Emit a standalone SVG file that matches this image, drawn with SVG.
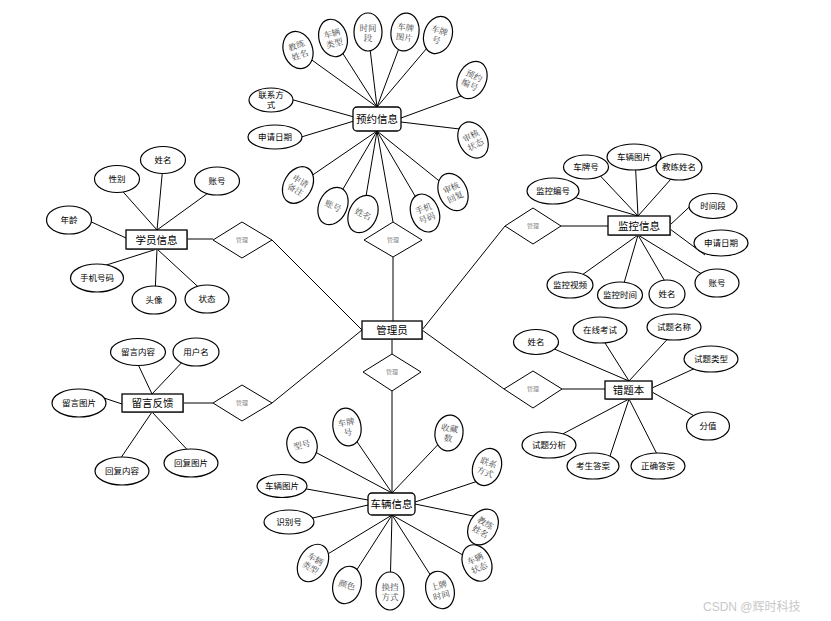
<svg xmlns="http://www.w3.org/2000/svg" width="831" height="621" viewBox="0 0 831 621">
<style>
.bg{fill:#fff}
.c line{stroke:#000;stroke-width:1}
.e{fill:#fff;stroke:#000;stroke-width:1.2}
.r{fill:#fff;stroke:#000;stroke-width:1.3}
.sh{fill:#999}
.d{fill:#fff;stroke:#000;stroke-width:1}
.t{font-family:"Liberation Sans","Noto Sans CJK SC",sans-serif;font-size:8.5px;fill:#000;text-anchor:middle}
.h{font-family:"Liberation Sans","Noto Sans CJK SC",sans-serif;font-size:10.5px;fill:#000;text-anchor:middle}
.s{font-family:"Liberation Serif","Noto Serif CJK SC","Noto Sans CJK SC",serif;font-size:8.5px;fill:#444;text-anchor:middle}
.m{font-family:"Liberation Sans","Noto Sans CJK SC",sans-serif;font-size:6px;fill:#888;text-anchor:middle}
.w{font-family:"Liberation Sans","Noto Sans CJK SC",sans-serif;font-size:12px;fill:#c8c8c8}
</style>
<rect class="bg" x="0" y="0" width="831" height="621"/>
<g id="connectors" class="c">
<line x1="377" y1="131" x2="393" y2="222"/>
<line x1="393" y1="257" x2="393" y2="321"/>
<line x1="392" y1="339" x2="392" y2="354"/>
<line x1="392" y1="391" x2="392" y2="493"/>
<line x1="187" y1="239" x2="213" y2="239"/>
<line x1="272" y1="240" x2="362" y2="330"/>
<line x1="183" y1="403" x2="213" y2="403"/>
<line x1="272" y1="403" x2="362" y2="330"/>
<line x1="422" y1="330" x2="505" y2="226"/>
<line x1="561" y1="226" x2="608" y2="226"/>
<line x1="422" y1="330" x2="504" y2="389"/>
<line x1="562" y1="389" x2="605" y2="389"/>
<line x1="377" y1="107" x2="298" y2="50"/>
<line x1="377" y1="107" x2="333" y2="38"/>
<line x1="377" y1="107" x2="368" y2="32"/>
<line x1="377" y1="107" x2="405" y2="32"/>
<line x1="377" y1="107" x2="438" y2="35"/>
<line x1="290" y1="99" x2="354" y2="117"/>
<line x1="298" y1="138" x2="354" y2="121"/>
<line x1="472" y1="92" x2="401" y2="118"/>
<line x1="401" y1="122" x2="468" y2="130"/>
<line x1="377" y1="131" x2="298" y2="185"/>
<line x1="377" y1="131" x2="333" y2="206"/>
<line x1="377" y1="131" x2="363" y2="214"/>
<line x1="377" y1="131" x2="425" y2="213"/>
<line x1="377" y1="131" x2="453" y2="192"/>
<line x1="638" y1="216" x2="553" y2="191"/>
<line x1="638" y1="216" x2="592" y2="167"/>
<line x1="638" y1="216" x2="635" y2="157"/>
<line x1="638" y1="216" x2="679" y2="170"/>
<line x1="670" y1="225" x2="700" y2="197"/>
<line x1="670" y1="229" x2="705" y2="255"/>
<line x1="638" y1="235" x2="710" y2="279"/>
<line x1="638" y1="235" x2="670" y2="290"/>
<line x1="638" y1="235" x2="622" y2="290"/>
<line x1="638" y1="235" x2="575" y2="280"/>
<line x1="629" y1="381" x2="545" y2="345"/>
<line x1="629" y1="381" x2="600" y2="335"/>
<line x1="629" y1="381" x2="674" y2="332"/>
<line x1="652" y1="388" x2="700" y2="366"/>
<line x1="652" y1="392" x2="705" y2="422"/>
<line x1="629" y1="399" x2="555" y2="438"/>
<line x1="629" y1="399" x2="608" y2="462"/>
<line x1="629" y1="399" x2="660" y2="460"/>
<line x1="157" y1="230" x2="117" y2="185"/>
<line x1="157" y1="230" x2="163" y2="165"/>
<line x1="157" y1="230" x2="215" y2="188"/>
<line x1="85" y1="219" x2="126" y2="238"/>
<line x1="157" y1="249" x2="97" y2="268"/>
<line x1="157" y1="249" x2="155" y2="295"/>
<line x1="157" y1="249" x2="207" y2="295"/>
<line x1="152" y1="394" x2="135" y2="358"/>
<line x1="152" y1="394" x2="187" y2="357"/>
<line x1="98" y1="396" x2="122" y2="404"/>
<line x1="152" y1="412" x2="116" y2="465"/>
<line x1="152" y1="412" x2="195" y2="458"/>
<line x1="392" y1="493" x2="302" y2="445"/>
<line x1="392" y1="493" x2="347" y2="427"/>
<line x1="392" y1="493" x2="449" y2="433"/>
<line x1="368" y1="500" x2="290" y2="486"/>
<line x1="415" y1="502" x2="487" y2="478"/>
<line x1="368" y1="505" x2="300" y2="521"/>
<line x1="415" y1="504" x2="483" y2="518"/>
<line x1="392" y1="515" x2="313" y2="563"/>
<line x1="392" y1="515" x2="347" y2="585"/>
<line x1="392" y1="515" x2="390" y2="591"/>
<line x1="392" y1="515" x2="440" y2="590"/>
<line x1="392" y1="515" x2="477" y2="563"/>
</g>

<g id="rel-top"><polygon class="d" points="393,222 422,240 393,257 364,240"/><text class="m" x="393" y="242">管理</text></g>
<g id="rel-bottom"><polygon class="d" points="392,354 421,372 392,391 363,372"/><text class="m" x="392" y="374">管理</text></g>
<g id="rel-left1"><polygon class="d" points="242,222 272,240 242,258 213,240"/><text class="m" x="242" y="242">管理</text></g>
<g id="rel-left2"><polygon class="d" points="242,385 272,403 242,421 213,403"/><text class="m" x="242" y="405">管理</text></g>
<g id="rel-right1"><polygon class="d" points="533,208 561,226 533,244 505,226"/><text class="m" x="533" y="228">管理</text></g>
<g id="rel-right2"><polygon class="d" points="533,371 562,389 533,408 504,389"/><text class="m" x="533" y="391">管理</text></g>

<g id="admin"><rect class="sh" x="363" y="322" width="60" height="18"/><rect class="r" x="362" y="321" width="60" height="18"/><text class="h" x="392" y="334">管理员</text></g>
<g id="student"><rect class="sh" x="127" y="231" width="61" height="19"/><rect class="r" x="126" y="230" width="61" height="19"/><text class="h" x="156.5" y="243.5">学员信息</text></g>
<g id="feedback"><rect class="sh" x="123" y="395" width="61" height="18"/><rect class="r" x="122" y="394" width="61" height="18"/><text class="h" x="152.5" y="407">留言反馈</text></g>
<g id="monitor"><rect class="sh" x="609" y="217" width="62" height="19"/><rect class="r" x="608" y="216" width="62" height="19"/><text class="h" x="639" y="229.5">监控信息</text></g>
<g id="wrongbook"><rect class="sh" x="606" y="382" width="47" height="18"/><rect class="r" x="605" y="381" width="47" height="18"/><text class="h" x="628.5" y="394">错题本</text></g>
<g id="booking"><rect class="r" x="353" y="107" width="48" height="24" rx="4"/><text class="h" x="377" y="123">预约信息</text></g>
<g id="vehicle"><rect class="r" x="368" y="493" width="47" height="22" rx="4"/><text class="h" x="391.5" y="508">车辆信息</text></g>

<g id="bk-coach" transform="translate(298,50) rotate(-20)"><ellipse class="e" rx="14.5" ry="19"/><text class="s" y="-1.5">教练</text><text class="s" y="8.5">姓名</text></g>
<g id="bk-cartype" transform="translate(333,38) rotate(-15)"><ellipse class="e" rx="14" ry="19"/><text class="s" y="-1.5">车辆</text><text class="s" y="8.5">类型</text></g>
<g id="bk-period" transform="translate(368,32)"><ellipse class="e" rx="14" ry="19"/><text class="s" y="-1.5">时间</text><text class="s" y="8.5">段</text></g>
<g id="bk-plateimg" transform="translate(405,32) rotate(8)"><ellipse class="e" rx="14" ry="19"/><text class="s" y="-1.5">车牌</text><text class="s" y="8.5">图片</text></g>
<g id="bk-plate" transform="translate(438,35) rotate(18)"><ellipse class="e" rx="14" ry="19"/><text class="s" y="-1.5">车牌</text><text class="s" y="8.5">号</text></g>
<g id="bk-no" transform="translate(472,80) rotate(25)"><ellipse class="e" rx="14" ry="19.5"/><text class="s" y="-1.5">预约</text><text class="s" y="8.5">编号</text></g>
<g id="bk-status" transform="translate(473,140) rotate(-28)"><ellipse class="e" rx="14" ry="19"/><text class="s" y="-1.5">审核</text><text class="s" y="8.5">状态</text></g>
<g id="bk-note" transform="translate(298,185) rotate(30)"><ellipse class="e" rx="14" ry="19.5"/><text class="s" y="-1.5">申请</text><text class="s" y="8.5">备注</text></g>
<g id="bk-account" transform="translate(333,206) rotate(25)"><ellipse class="e" rx="14" ry="19.5"/><text class="s" y="3">账号</text></g>
<g id="bk-name" transform="translate(363,214) rotate(25)"><ellipse class="e" rx="14" ry="19.5"/><text class="s" y="3">姓名</text></g>
<g id="bk-phone" transform="translate(425,213) rotate(-20)"><ellipse class="e" rx="14" ry="19.5"/><text class="s" y="-1.5">手机</text><text class="s" y="8.5">号码</text></g>
<g id="bk-reply" transform="translate(453,192) rotate(-25)"><ellipse class="e" rx="14" ry="19.5"/><text class="s" y="-1.5">审核</text><text class="s" y="8.5">回复</text></g>
<g id="bk-contact"><ellipse class="e" cx="271" cy="100" rx="22" ry="12"/><text class="t" x="271" y="98">联系方</text><text class="t" x="271" y="108">式</text></g>
<g id="bk-date"><ellipse class="e" cx="275" cy="137" rx="27" ry="12"/><text class="t" x="275" y="140">申请日期</text></g>

<g id="mo-plate"><ellipse class="e" cx="586" cy="167" rx="22.5" ry="12"/><text class="t" x="586" y="170">车牌号</text></g>
<g id="mo-carimg"><ellipse class="e" cx="634" cy="157" rx="27" ry="13"/><text class="t" x="634" y="160">车辆图片</text></g>
<g id="mo-coach"><ellipse class="e" cx="679" cy="167" rx="23" ry="13"/><text class="t" x="679" y="170">教练姓名</text></g>
<g id="mo-no"><ellipse class="e" cx="553" cy="191" rx="26" ry="13"/><text class="t" x="553" y="194">监控编号</text></g>
<g id="mo-period"><ellipse class="e" cx="713" cy="206" rx="24" ry="12.5"/><text class="t" x="713" y="209">时间段</text></g>
<g id="mo-date"><ellipse class="e" cx="721" cy="243" rx="27" ry="13"/><text class="t" x="721" y="246">申请日期</text></g>
<g id="mo-account"><ellipse class="e" cx="717" cy="283" rx="22" ry="14"/><text class="t" x="717" y="286">账号</text></g>
<g id="mo-video"><ellipse class="e" cx="570" cy="285" rx="23" ry="13"/><text class="t" x="570" y="288">监控视频</text></g>
<g id="mo-time"><ellipse class="e" cx="620" cy="295" rx="22.5" ry="13"/><text class="t" x="620" y="298">监控时间</text></g>
<g id="mo-name"><ellipse class="e" cx="667" cy="294" rx="18" ry="14"/><text class="t" x="667" y="297">姓名</text></g>

<g id="wb-name"><ellipse class="e" cx="536" cy="342" rx="22.5" ry="12.5"/><text class="t" x="536" y="345">姓名</text></g>
<g id="wb-exam"><ellipse class="e" cx="600" cy="330" rx="27" ry="13"/><text class="t" x="600" y="333">在线考试</text></g>
<g id="wb-qname"><ellipse class="e" cx="674" cy="327" rx="27" ry="13"/><text class="t" x="674" y="330">试题名称</text></g>
<g id="wb-qtype"><ellipse class="e" cx="711" cy="359" rx="27" ry="13"/><text class="t" x="711" y="362">试题类型</text></g>
<g id="wb-score"><ellipse class="e" cx="708" cy="426" rx="21.5" ry="14"/><text class="t" x="708" y="429">分值</text></g>
<g id="wb-analysis"><ellipse class="e" cx="549" cy="445" rx="27" ry="13"/><text class="t" x="549" y="448">试题分析</text></g>
<g id="wb-answer"><ellipse class="e" cx="593" cy="466" rx="26" ry="13"/><text class="t" x="593" y="469">考生答案</text></g>
<g id="wb-correct"><ellipse class="e" cx="658" cy="466" rx="27" ry="13"/><text class="t" x="658" y="469">正确答案</text></g>

<g id="st-gender"><ellipse class="e" cx="117" cy="179" rx="22.5" ry="13.5"/><text class="t" x="117" y="182">性别</text></g>
<g id="st-name"><ellipse class="e" cx="163" cy="160" rx="22.5" ry="13.5"/><text class="t" x="163" y="163">姓名</text></g>
<g id="st-account"><ellipse class="e" cx="217" cy="181" rx="22.5" ry="14"/><text class="t" x="217" y="184">账号</text></g>
<g id="st-age"><ellipse class="e" cx="69" cy="220" rx="22.5" ry="14"/><text class="t" x="69" y="223">年龄</text></g>
<g id="st-phone"><ellipse class="e" cx="97" cy="278" rx="26.5" ry="14"/><text class="t" x="97" y="281">手机号码</text></g>
<g id="st-avatar"><ellipse class="e" cx="154" cy="300" rx="22" ry="14"/><text class="t" x="154" y="303">头像</text></g>
<g id="st-status"><ellipse class="e" cx="207" cy="299" rx="22" ry="14"/><text class="t" x="207" y="302">状态</text></g>

<g id="fb-content"><ellipse class="e" cx="138" cy="352" rx="27.5" ry="13.5"/><text class="t" x="138" y="355">留言内容</text></g>
<g id="fb-user"><ellipse class="e" cx="196" cy="352" rx="23" ry="14"/><text class="t" x="196" y="355">用户名</text></g>
<g id="fb-img"><ellipse class="e" cx="79" cy="403" rx="27" ry="14"/><text class="t" x="79" y="406">留言图片</text></g>
<g id="fb-reply"><ellipse class="e" cx="122" cy="471" rx="27" ry="14"/><text class="t" x="122" y="474">回复内容</text></g>
<g id="fb-replyimg"><ellipse class="e" cx="191" cy="463" rx="27" ry="14"/><text class="t" x="191" y="466">回复图片</text></g>

<g id="vh-model" transform="translate(302,445) rotate(-15)"><ellipse class="e" rx="15" ry="18"/><text class="s" y="3">型号</text></g>
<g id="vh-plate" transform="translate(347,427) rotate(-10)"><ellipse class="e" rx="14" ry="19"/><text class="s" y="-1.5">车牌</text><text class="s" y="8.5">号</text></g>
<g id="vh-fav" transform="translate(449,433) rotate(8)"><ellipse class="e" rx="14" ry="18"/><text class="s" y="-1.5">收藏</text><text class="s" y="8.5">数</text></g>
<g id="vh-contact" transform="translate(487,467) rotate(20)"><ellipse class="e" rx="14" ry="19"/><text class="s" y="-1.5">联系</text><text class="s" y="8.5">方式</text></g>
<g id="vh-coach" transform="translate(483,527) rotate(30)"><ellipse class="e" rx="14" ry="19"/><text class="s" y="-1.5">教练</text><text class="s" y="8.5">姓名</text></g>
<g id="vh-type" transform="translate(313,563) rotate(30)"><ellipse class="e" rx="14" ry="20"/><text class="s" y="-1.5">车辆</text><text class="s" y="8.5">类型</text></g>
<g id="vh-color" transform="translate(347,585) rotate(15)"><ellipse class="e" rx="14" ry="19"/><text class="s" y="3">颜色</text></g>
<g id="vh-gear" transform="translate(390,591)"><ellipse class="e" rx="14" ry="19"/><text class="s" y="-1.5">换挡</text><text class="s" y="8.5">方式</text></g>
<g id="vh-regtime" transform="translate(440,590) rotate(-15)"><ellipse class="e" rx="14" ry="19"/><text class="s" y="-1.5">上牌</text><text class="s" y="8.5">时间</text></g>
<g id="vh-status" transform="translate(477,563) rotate(-25)"><ellipse class="e" rx="14" ry="19"/><text class="s" y="-1.5">车辆</text><text class="s" y="8.5">状态</text></g>
<g id="vh-img"><ellipse class="e" cx="282" cy="486" rx="25" ry="11.5"/><text class="t" x="282" y="489">车辆图片</text></g>
<g id="vh-id"><ellipse class="e" cx="289" cy="522" rx="25" ry="12"/><text class="t" x="289" y="525">识别号</text></g>

<text class="w" x="703" y="611">CSDN @辉时科技</text>
</svg>
